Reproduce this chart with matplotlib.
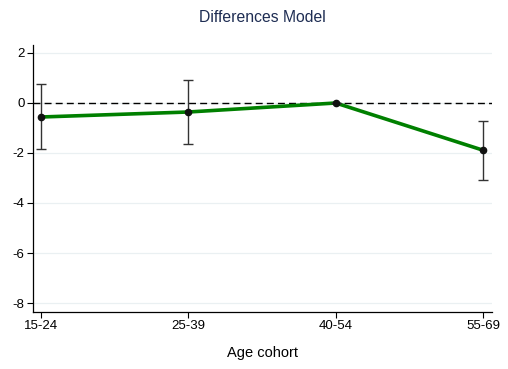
import matplotlib
matplotlib.use("Agg")
import matplotlib.pyplot as plt

plt.rcParams['font.family'] = ['Liberation Sans', 'DejaVu Sans']
plt.rcParams['axes.unicode_minus'] = False

cohorts = ["15-24", "25-39", "40-54", "55-69"]
estimate = [-0.56, -0.36, 0.0, -1.89]
ci_low = [-1.84, -1.63, 0.0, -3.10]
ci_high = [0.75, 0.93, 0.0, -0.71]
yticks = [2, 0, -2, -4, -6, -8]

fig = plt.figure(figsize=(5.08, 3.69), dpi=100)
ax = fig.add_axes([33 / 508, 57 / 369, 459 / 508, 267 / 369])

x = list(range(len(cohorts)))
for v in yticks:
    ax.axhline(v, color="#eaf0f2", lw=0.9, zorder=0)
ax.axhline(0, color="black", lw=1.0, ls=(0, (5, 3)), zorder=1)

ax.plot(x, estimate, color="#008000", lw=2.6, zorder=2, solid_capstyle="round")
lower = [e - l for e, l in zip(estimate, ci_low)]
upper = [h - e for e, h in zip(estimate, ci_high)]
ax.errorbar(x, estimate, yerr=[lower, upper], fmt="none", ecolor="#333333",
            elinewidth=1.0, capsize=3.5, capthick=1.0, zorder=3)
ax.plot(x, estimate, "o", color="#111111", ms=4.5, zorder=4)

ax.set_xlim(-0.054, 3.06)
ax.set_ylim(-8.36, 2.32)
ax.set_xticks(x)
ax.set_xticklabels(cohorts)
ax.set_yticks(yticks)
ax.tick_params(axis="both", labelsize=9.5, length=4, width=0.8, color="black", pad=2)
for side in ("top", "right"):
    ax.spines[side].set_visible(False)
for side in ("left", "bottom"):
    ax.spines[side].set_linewidth(0.9)

ax.set_xlabel("Age cohort", fontsize=10.5, labelpad=10)
fig.text(262 / 508, 1 - 17 / 369, "Differences Model", ha="center", va="center",
         fontsize=11.3, color="#1e2d53")

fig.savefig("out.png", dpi=100)
